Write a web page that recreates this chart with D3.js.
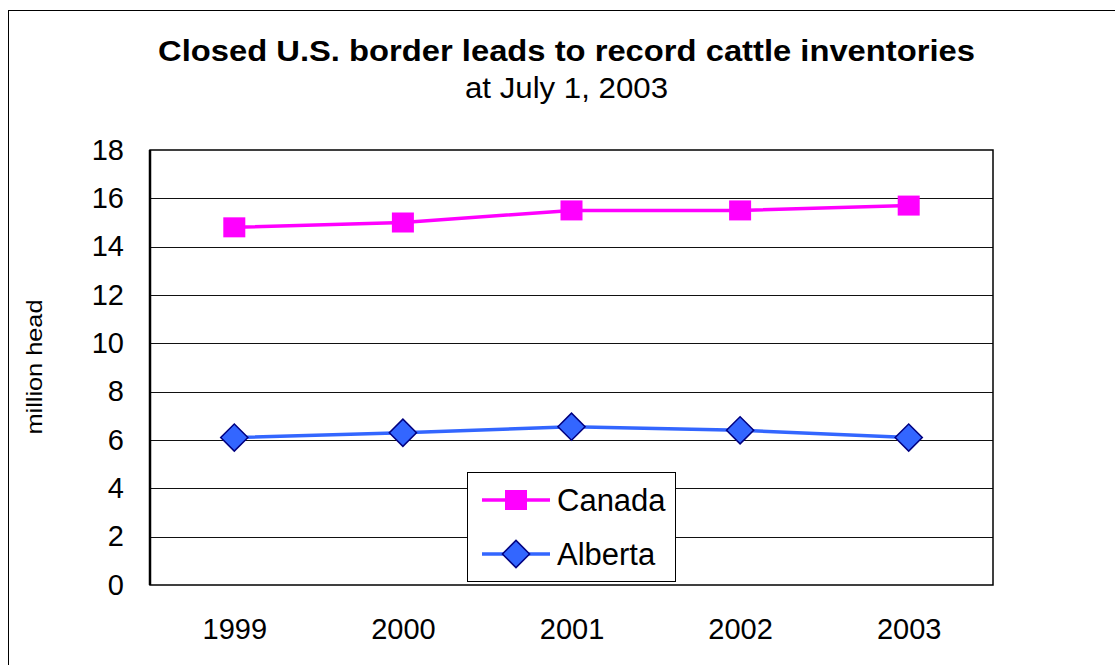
<!DOCTYPE html>
<html>
<head>
<meta charset="utf-8">
<script src="https://cdn.jsdelivr.net/npm/d3@7"></script>
<style>
  body { margin: 0; background: #fff; }
  text { font-family: "Liberation Sans", Arial, sans-serif; }
</style>
</head>
<body>
<div id="chart"></div>
<script>
// Data
const years = ["1999", "2000", "2001", "2002", "2003"]
const canada = [14.8, 15.0, 15.5, 15.5, 15.7]
const alberta = [6.1, 6.3, 6.55, 6.4, 6.1]
const yTicks = [0, 2, 4, 6, 8, 10, 12, 14, 16, 18]

const width = 1115
const height = 665
const plot = { left: 150, top: 150, right: 993, bottom: 585 }
const fontFam = "'Liberation Sans', Arial, sans-serif"

const svg = d3.select("#chart").append("svg")
  .attr("width", width)
  .attr("height", height)

// outer frame
svg.append("rect")
  .attr("x", 8.5).attr("y", 10.5)
  .attr("width", width + 10).attr("height", height + 10)
  .attr("fill", "none").attr("stroke", "#000").attr("stroke-width", 1)

// Title
svg.append("text")
  .attr("x", 158).attr("y", 61)
  .attr("font-size", 29).attr("font-weight", "bold")
  .attr("textLength", 817).attr("lengthAdjust", "spacingAndGlyphs")
  .text("Closed U.S. border leads to record cattle inventories")

svg.append("text")
  .attr("x", 465).attr("y", 98)
  .attr("font-size", 29)
  .attr("textLength", 203).attr("lengthAdjust", "spacingAndGlyphs")
  .text("at July 1, 2003")

// Scales
const x = d3.scalePoint()
  .domain(years)
  .range([plot.left, plot.right])
  .padding(0.5)

const y = d3.scaleLinear()
  .domain([0, 18])
  .range([plot.bottom, plot.top])

// gridlines
svg.append("g")
  .selectAll("line")
  .data(yTicks.filter(d => d > 0 && d < 18))
  .enter()
  .append("line")
  .attr("x1", plot.left).attr("x2", plot.right)
  .attr("y1", d => Math.round(y(d)) + 0.5).attr("y2", d => Math.round(y(d)) + 0.5)
  .attr("stroke", "#111").attr("stroke-width", 1)

// plot frame
svg.append("rect")
  .attr("x", plot.left).attr("y", plot.top)
  .attr("width", plot.right - plot.left).attr("height", plot.bottom - plot.top)
  .attr("fill", "none").attr("stroke", "#000").attr("stroke-width", 1.5)

svg.append("line")
  .attr("x1", plot.left).attr("x2", plot.left)
  .attr("y1", plot.top).attr("y2", plot.bottom)
  .attr("stroke", "#000").attr("stroke-width", 2.5)

// y axis labels
const yAxis = svg.append("g")
  .attr("transform", "translate(" + plot.left + ",0)")
  .call(d3.axisLeft(y).tickValues(yTicks).tickSize(0).tickPadding(26))
yAxis.select(".domain").remove()
yAxis.selectAll("text")
  .attr("font-size", 29)
  .attr("fill", "#000")
  .style("font-family", fontFam)

// x axis labels
const xAxis = svg.append("g")
  .attr("transform", "translate(0," + plot.bottom + ")")
  .call(d3.axisBottom(x).tickSize(0).tickPadding(33))
xAxis.select(".domain").remove()
xAxis.selectAll("text")
  .attr("font-size", 29)
  .attr("fill", "#000")
  .style("font-family", fontFam)

// y axis title
svg.append("text")
  .attr("transform", "translate(34,367) rotate(-90)")
  .attr("text-anchor", "middle")
  .attr("dy", "0.35em")
  .attr("font-size", 22)
  .attr("textLength", 135).attr("lengthAdjust", "spacingAndGlyphs")
  .text("million head")

// Lines
const line = d3.line()
  .x((d, i) => x(years[i]))
  .y(d => y(d))

svg.append("path")
  .datum(canada)
  .attr("d", line)
  .attr("fill", "none")
  .attr("stroke", "#ff00ff")
  .attr("stroke-width", 3.5)

svg.append("path")
  .datum(alberta)
  .attr("d", line)
  .attr("fill", "none")
  .attr("stroke", "#3366ff")
  .attr("stroke-width", 3.5)

// markers
svg.append("g")
  .selectAll("rect")
  .data(canada)
  .enter()
  .append("rect")
  .attr("x", (d, i) => x(years[i]) - 11)
  .attr("y", d => y(d) - 10)
  .attr("width", 22).attr("height", 20)
  .attr("fill", "#ff00ff")

const diamond = d3.symbol().type(d3.symbolSquare).size(370)

svg.append("g")
  .selectAll("path")
  .data(alberta)
  .enter()
  .append("path")
  .attr("d", diamond)
  .attr("transform", (d, i) => "translate(" + x(years[i]) + "," + y(d) + ") rotate(45)")
  .attr("fill", "#3366ff")
  .attr("stroke", "#000080")
  .attr("stroke-width", 1.5)

// Legend
const legend = svg.append("g")
legend.append("rect")
  .attr("x", 467.5).attr("y", 472.5)
  .attr("width", 208).attr("height", 109)
  .attr("fill", "#fff").attr("stroke", "#000").attr("stroke-width", 1)

const legendItems = [
  { name: "Canada", color: "#ff00ff" },
  { name: "Alberta", color: "#3366ff" }
]

legendItems.forEach((item, i) => {
  const ly = 500 + i * 54
  legend.append("line")
    .attr("x1", 482).attr("x2", 550)
    .attr("y1", ly).attr("y2", ly)
    .attr("stroke", item.color).attr("stroke-width", 3.5)
  if (i === 0) {
    legend.append("rect")
      .attr("x", 505).attr("y", ly - 10)
      .attr("width", 22).attr("height", 20)
      .attr("fill", item.color)
  } else {
    legend.append("path")
      .attr("d", diamond)
      .attr("transform", "translate(516," + ly + ") rotate(45)")
      .attr("fill", item.color)
      .attr("stroke", "#000080")
      .attr("stroke-width", 1.5)
  }
  legend.append("text")
    .attr("x", 557).attr("y", ly)
    .attr("dy", "0.35em")
    .attr("font-size", 31)
    .text(item.name)
})
</script>
</body>
</html>
